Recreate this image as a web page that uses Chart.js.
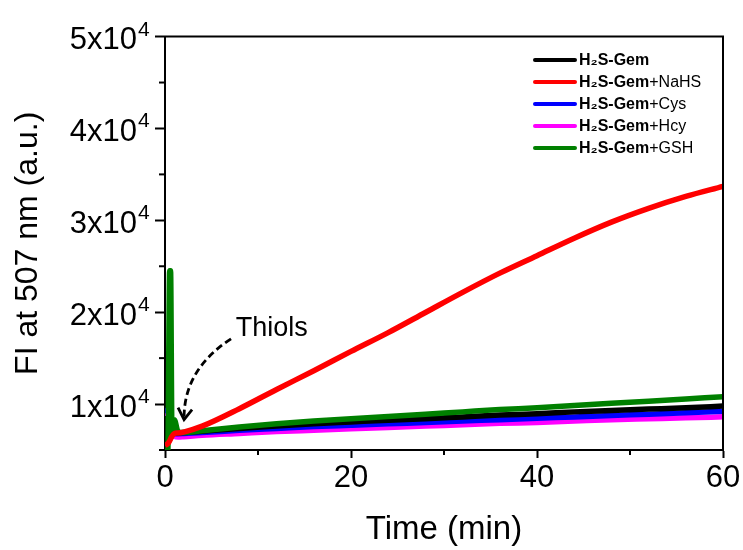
<!DOCTYPE html>
<html><head><meta charset="utf-8">
<script src="https://cdn.jsdelivr.net/npm/chart.js@4.4.1/dist/chart.umd.min.js"></script>
<style>html,body{margin:0;padding:0;background:#fff}#wrap{width:743px;height:550px}</style>
</head><body><div id="wrap"><canvas id="c" width="743" height="550"></canvas></div>
<script>
// ---- data ----
const times   = [0, 0.3, 0.5, 0.6, 0.75, 1.0, 1.4, 2, 4, 8, 12, 16, 20, 24, 28, 32, 36, 40, 44, 48, 52, 56, 60];
const seriesNames = ['H₂S-Gem', 'H₂S-Gem+NaHS', 'H₂S-Gem+Cys', 'H₂S-Gem+Hcy', 'H₂S-Gem+GSH'];
const gem     = [6300, 6400, 6600, 6700, 6800, 6850, 6880, 6900, 7050, 7350, 7600, 7850, 8050, 8250, 8400, 8600, 8800, 8950, 9150, 9300, 9450, 9600, 9780];
const gemNaHS = [5500, 5700, 6000, 6200, 6500, 6800, 6850, 6950, 7600, 9500, 11590, 13630, 15730, 17780, 19970, 22160, 24250, 26150, 28050, 29800, 31300, 32600, 33700];
const gemCys  = [9300, 9250, 9000, 7500, 6900, 6800, 6780, 6800, 6900, 7150, 7350, 7550, 7700, 7850, 8000, 8150, 8300, 8450, 8600, 8750, 8900, 9050, 9230];
const gemHcy  = [9000, 8950, 8800, 7200, 6700, 6500, 6420, 6450, 6600, 6800, 7000, 7150, 7300, 7450, 7600, 7750, 7900, 8000, 8150, 8300, 8400, 8500, 8610];
const gemGSH  = [4800, 4800, 24500, 24500, 7000, 8300, 7000, 6900, 7100, 7500, 7850, 8150, 8400, 8650, 8900, 9150, 9400, 9600, 9850, 10100, 10300, 10550, 10800];
const xTickValues = [0, 20, 40, 60];
const xMinorTicks = [10, 30, 50];
const yTickValues = [10000, 20000, 30000, 40000, 50000];
const yMinorTicks = [5000, 15000, 25000, 35000, 45000];
const yExponent = '4';
const xTitle = 'Time (min)';
const yTitle = 'FI at 507 nm (a.u.)';
const annotationText = 'Thiols';

// ---- styling ----
const FONT = '"Liberation Sans", Arial, sans-serif';
const seriesColors = ['#000000', '#ff0000', '#0000ff', '#ff00ff', '#008000'];
const seriesData = [gem, gemNaHS, gemCys, gemHcy, gemGSH];
const drawOrder = [2, 0, 3, 4, 1];
// annotation anchors in data units
const ann = { text: {x: 7.6, y: 18200}, start: {x: 7.1, y: 17100}, ctrl: {x: 2.1, y: 13800}, tip: {x: 2.05, y: 8300} };

const datasets = seriesNames.map((name, i) => ({
  label: name,
  data: times.map((t, j) => ({x: t, y: seriesData[i][j]})),
  borderColor: seriesColors[i],
  backgroundColor: seriesColors[i],
  borderWidth: 5.5,
  pointRadius: 0,
  fill: false,
  cubicInterpolationMode: 'monotone',
  borderJoinStyle: 'round',
  clip: 0,
  order: drawOrder[i]
}));

const decor = {
  id: 'decor',
  afterDatasetsDraw(chart) {
    const {ctx, scales: {x, y}} = chart;
    const P = p => [x.getPixelForValue(p.x), y.getPixelForValue(p.y)];
    const [sx, sy] = P(ann.start), [cx, cy] = P(ann.ctrl), [tx, ty] = P(ann.tip);
    ctx.save();
    ctx.strokeStyle = '#000';
    ctx.lineWidth = 2.8;
    ctx.setLineDash([7, 4]);
    ctx.beginPath();
    ctx.moveTo(sx, sy);
    ctx.quadraticCurveTo(cx, cy, tx, ty - 3);
    ctx.stroke();
    ctx.setLineDash([]);
    ctx.lineWidth = 2.8;
    ctx.lineJoin = 'miter';
    ctx.beginPath();
    ctx.moveTo(tx - 6, ty - 12);
    ctx.lineTo(tx, ty);
    ctx.lineTo(tx + 8, ty - 10);
    ctx.stroke();
    const [lx, ly] = P(ann.text);
    ctx.fillStyle = '#000';
    ctx.font = '27px ' + FONT;
    ctx.textAlign = 'left';
    ctx.textBaseline = 'middle';
    ctx.fillText(annotationText, lx, ly);
    ctx.restore();
  },
  afterDraw(chart) {
    const {ctx, chartArea: a, scales: {x, y}} = chart;
    ctx.save();
    ctx.strokeStyle = '#000';
    ctx.lineWidth = 2;
    ctx.beginPath();
    ctx.moveTo(a.left - 1, a.top);
    ctx.lineTo(a.right, a.top);
    ctx.lineTo(a.right, a.bottom + 1);
    ctx.stroke();
    xMinorTicks.forEach(v => {
      const px = x.getPixelForValue(v);
      ctx.beginPath(); ctx.moveTo(px, a.bottom); ctx.lineTo(px, a.bottom + 5); ctx.stroke();
    });
    yMinorTicks.forEach(v => {
      const py = y.getPixelForValue(v);
      ctx.beginPath(); ctx.moveTo(a.left, py); ctx.lineTo(a.left - 6, py); ctx.stroke();
    });
    // exponent of the y tick labels (superscript)
    ctx.fillStyle = '#000';
    ctx.font = '21px ' + FONT;
    ctx.textAlign = 'left';
    ctx.textBaseline = 'alphabetic';
    yTickValues.forEach(v => {
      const py = y.getPixelForValue(v);
      ctx.fillText(yExponent, a.left - 27, py - 1);
    });
    // legend
    const lx0 = 535, lx1 = 575, tx0 = 579, top = 60, step = 22;
    chart.data.datasets.forEach((ds, i) => {
      const yy = top + i * step;
      ctx.strokeStyle = ds.borderColor;
      ctx.lineWidth = 4;
      ctx.lineCap = 'round';
      ctx.beginPath(); ctx.moveTo(lx0, yy); ctx.lineTo(lx1, yy); ctx.stroke();
      ctx.fillStyle = '#000';
      ctx.textBaseline = 'middle';
      ctx.textAlign = 'left';
      const base = 'H₂S-Gem';
      ctx.font = 'bold 16px ' + FONT;
      ctx.fillText(base, tx0, yy + 1);
      const w = ctx.measureText(base).width;
      const rest = ds.label.slice(base.length);
      if (rest) { ctx.font = '16px ' + FONT; ctx.fillText(rest, tx0 + w, yy + 1); }
    });
    ctx.restore();
  }
};

new Chart(document.getElementById('c'), {
  type: 'line',
  data: { datasets },
  options: {
    responsive: false,
    animation: false,
    devicePixelRatio: 1,
    layout: { padding: { top: 33, right: 20, left: 0, bottom: 0 } },
    plugins: { legend: { display: false }, tooltip: { enabled: false } },
    scales: {
      x: {
        type: 'linear', min: 0, max: 60,
        afterBuildTicks: s => { s.ticks = xTickValues.map(v => ({value: v})); },
        afterFit: s => { s.height = 100; },
        grid: { drawOnChartArea: false, drawTicks: true, tickLength: 8, tickWidth: 2, tickColor: '#000' },
        border: { display: true, color: '#000', width: 2 },
        ticks: { color: '#000', font: { family: FONT, size: 31 }, padding: 2, maxRotation: 0 },
        title: { display: true, text: xTitle, color: '#000', font: { family: FONT, size: 33 }, padding: { top: 0, bottom: 0 } }
      },
      y: {
        type: 'linear', min: 5000, max: 50000,
        afterBuildTicks: s => { s.ticks = yTickValues.map(v => ({value: v})); },
        afterFit: s => { s.width = 165; },
        grid: { drawOnChartArea: false, drawTicks: true, tickLength: 10, tickWidth: 2, tickColor: '#000' },
        border: { display: true, color: '#000', width: 2 },
        ticks: { color: '#000', font: { family: FONT, size: 31 }, padding: 18, labelOffset: 4, callback: v => (v / 10000) + 'x10' },
        title: { display: true, text: yTitle, color: '#000', font: { family: FONT, size: 32 }, padding: { top: 9, bottom: 0 } }
      }
    }
  },
  plugins: [decor]
});
</script>
</body></html>
